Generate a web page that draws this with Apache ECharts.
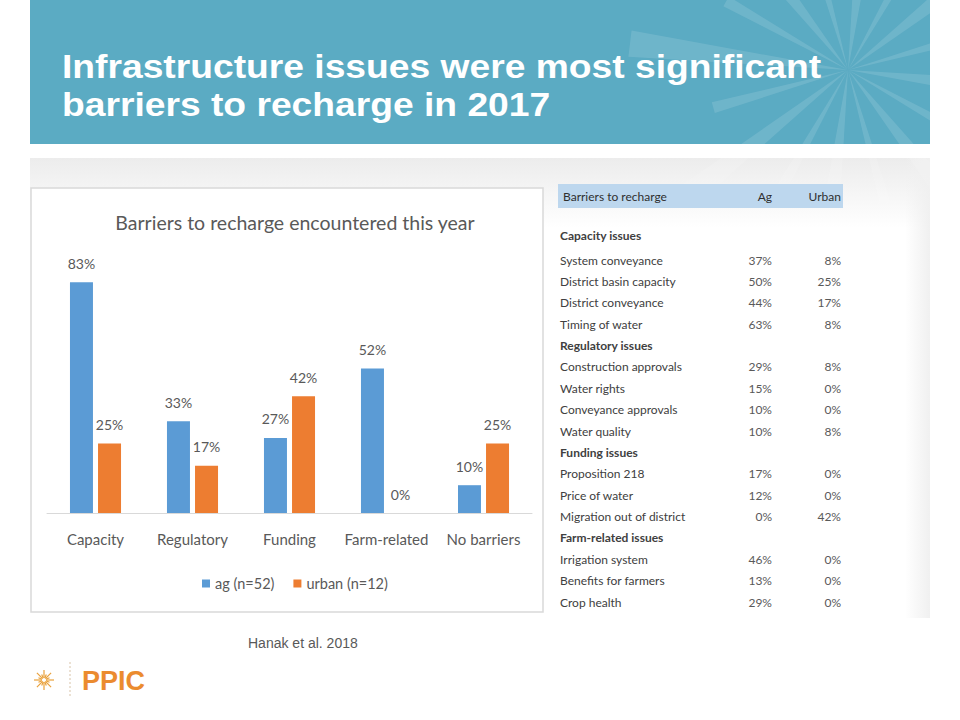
<!DOCTYPE html>
<html>
<head>
<meta charset="utf-8">
<script src="https://cdn.jsdelivr.net/npm/echarts@6/dist/echarts.min.js"></script>
<style>
  html, body { margin: 0; padding: 0; background: #fff; }
  #slide { width: 960px; height: 720px; }
</style>
</head>
<body>
<div id="slide"></div>
<script>
// chart data
var categories = ['Capacity', 'Regulatory', 'Funding', 'Farm-related', 'No barriers'];
var agValues = [83, 33, 27, 52, 10];
var urbanValues = [25, 17, 42, 0, 25];
var seriesNames = ['ag (n=52)', 'urban (n=12)'];

// table data (section rows have no values)
var tableHead = ['Barriers to recharge', 'Ag', 'Urban'];
var tableLabels = ['Capacity issues', 'System conveyance', 'District basin capacity', 'District conveyance', 'Timing of water',
  'Regulatory issues', 'Construction approvals', 'Water rights', 'Conveyance approvals', 'Water quality',
  'Funding issues', 'Proposition 218', 'Price of water', 'Migration out of district',
  'Farm-related issues', 'Irrigation system', 'Benefits for farmers', 'Crop health'];
var tableAg = [null, 37, 50, 44, 63, null, 29, 15, 10, 10, null, 17, 12, 0, null, 46, 13, 29];
var tableUrban = [null, 8, 25, 17, 8, null, 8, 0, 0, 8, null, 0, 0, 42, null, 0, 0, 0];

var slideTitle = ['Infrastructure issues were most significant', 'barriers to recharge in 2017'];
var chartTitle = 'Barriers to recharge encountered this year';
var sourceNote = 'Hanak et al. 2018';

var myChart = echarts.init(document.getElementById('slide'), null, {renderer: 'svg'});

var graphics = [];

// banner
graphics.push({type: 'rect', shape: {x: 30, y: 0, width: 900, height: 144}, style: {fill: '#5BABC3'}, z: 0});
// star rays in the banner
var cx = 848, cy = 70;
for (var a = 0; a < 16; a++) {
  var ang = a * Math.PI / 8 + 0.12;
  var len = a % 2 ? 140 : 220;
  var w = a % 2 ? 0.04 : 0.06;
  graphics.push({
    type: 'polygon',
    shape: {points: [[cx, cy],
      [cx + len * Math.cos(ang - w), cy + len * Math.sin(ang - w)],
      [cx + len * Math.cos(ang + w), cy + len * Math.sin(ang + w)]]},
    style: {fill: 'rgba(255,255,255,0.12)'}, z: 1
  });
}
// mask rays outside the banner
graphics.push({type: 'rect', shape: {x: 930, y: 0, width: 30, height: 160}, style: {fill: '#fff'}, z: 2});
graphics.push({type: 'rect', shape: {x: 600, y: 144, width: 360, height: 14}, style: {fill: '#fff'}, z: 2});

// slide title, two lines
graphics.push({type: 'text', x: 62, y: 66.5, scaleX: 1.095, style: {text: slideTitle[0], font: 'bold 34px "Liberation Sans", Arial',
  fill: '#fff', verticalAlign: 'middle'}, z: 3});
graphics.push({type: 'text', x: 62, y: 104.5, scaleX: 1.095, style: {text: slideTitle[1], font: 'bold 34px "Liberation Sans", Arial',
  fill: '#fff', verticalAlign: 'middle'}, z: 3});

// grey panel under the banner
graphics.push({type: 'rect', shape: {x: 30, y: 158, width: 900, height: 70},
  style: {fill: new echarts.graphic.LinearGradient(0, 0, 0, 1, [{offset: 0, color: '#ececec'}, {offset: 1, color: '#ffffff'}])}, z: 0});
graphics.push({type: 'rect', shape: {x: 905, y: 158, width: 25, height: 460},
  style: {fill: new echarts.graphic.LinearGradient(0, 0, 1, 0, [{offset: 0, color: 'rgba(240,240,240,0)'}, {offset: 1, color: '#f0f0f0'}])}, z: 0});

// chart frame
graphics.push({type: 'rect', shape: {x: 31, y: 188, width: 512, height: 424}, style: {fill: '#fff', stroke: '#d9d9d9', lineWidth: 1.5}, z: 1});

// table
graphics.push({type: 'rect', shape: {x: 558, y: 184, width: 285, height: 24}, style: {fill: '#BDD7EE'}, z: 1});
graphics.push({type: 'text', x: 563, y: 196, style: {text: tableHead[0], font: '12px Lato', fill: '#2f2f2f', verticalAlign: 'middle'}, z: 2});
graphics.push({type: 'text', x: 772, y: 196, style: {text: tableHead[1], font: '12px Lato', fill: '#2f2f2f', verticalAlign: 'middle', align: 'right'}, z: 2});
graphics.push({type: 'text', x: 841, y: 196, style: {text: tableHead[2], font: '12px Lato', fill: '#2f2f2f', verticalAlign: 'middle', align: 'right'}, z: 2});
tableLabels.forEach(function (lab, i) {
  var y = i === 0 ? 235 : 260 + (i - 1) * 21.375;
  var section = tableAg[i] === null;
  graphics.push({type: 'text', x: 560, y: y, style: {text: lab, font: (section ? 'bold ' : '') + '12px Lato', fill: '#404040', verticalAlign: 'middle'}, z: 2});
  if (!section) {
    graphics.push({type: 'text', x: 772, y: y, style: {text: tableAg[i] + '%', font: '12px Lato', fill: '#595959', verticalAlign: 'middle', align: 'right'}, z: 2});
    graphics.push({type: 'text', x: 841, y: y, style: {text: tableUrban[i] + '%', font: '12px Lato', fill: '#595959', verticalAlign: 'middle', align: 'right'}, z: 2});
  }
});

// source
graphics.push({type: 'text', x: 248, y: 643, style: {text: sourceNote, font: '14px "Liberation Sans", Arial', fill: '#595959', verticalAlign: 'middle'}, z: 2});

// PPIC logo
for (var r = 0; r < 16; r++) {
  var ra = r * Math.PI / 8;
  var rl = r % 2 ? 6 : 10;
  graphics.push({type: 'line', shape: {x1: 44 + 2 * Math.cos(ra), y1: 680 + 2 * Math.sin(ra), x2: 44 + rl * Math.cos(ra), y2: 680 + rl * Math.sin(ra)},
    style: {stroke: '#E9A13B', lineWidth: 1.2}, z: 2});
}
graphics.push({type: 'line', shape: {x1: 70, y1: 662, x2: 70, y2: 698}, style: {stroke: '#d8c3a8', lineWidth: 1, lineDash: [2, 2]}, z: 2});
graphics.push({type: 'text', x: 82, y: 681, style: {text: 'PPIC', font: 'bold 27px "Liberation Sans", Arial', fill: '#EB8B2F', verticalAlign: 'middle'}, z: 2});

var labelStyle = {show: true, position: 'top', distance: 12, color: '#595959', fontFamily: 'Lato', fontSize: 14, formatter: '{c}%'};

myChart.setOption({
  backgroundColor: '#fff',
  animation: false,
  title: {
    text: chartTitle,
    left: 290,
    textAlign: 'center',
    top: 207,
    z: 5,
    textStyle: {color: '#595959', fontFamily: 'Lato', fontWeight: 'normal', fontSize: 19.5}
  },
  legend: {
    data: seriesNames,
    left: 197,
    top: 571,
    z: 5,
    icon: 'rect',
    itemWidth: 8,
    itemHeight: 8,
    itemGap: 19,
    textStyle: {color: '#595959', fontFamily: 'Lato', fontSize: 14.5}
  },
  grid: {left: 47, right: 428, top: 235, bottom: 207},
  xAxis: {
    type: 'category',
    data: categories,
    z: 5,
    axisLine: {lineStyle: {color: '#d9d9d9'}},
    axisTick: {show: false},
    axisLabel: {color: '#595959', fontFamily: 'Lato', fontSize: 15, margin: 18, interval: 0}
  },
  yAxis: {type: 'value', min: 0, max: 100, show: false, splitLine: {show: false}},
  series: [
    {name: seriesNames[0], type: 'bar', z: 5, data: agValues, barWidth: 23, barGap: '22%', itemStyle: {color: '#5B9BD5'}, label: labelStyle},
    {name: seriesNames[1], type: 'bar', z: 5, data: urbanValues, barWidth: 23, itemStyle: {color: '#ED7D31'}, label: labelStyle}
  ],
  graphic: graphics
});
</script>
</body>
</html>
